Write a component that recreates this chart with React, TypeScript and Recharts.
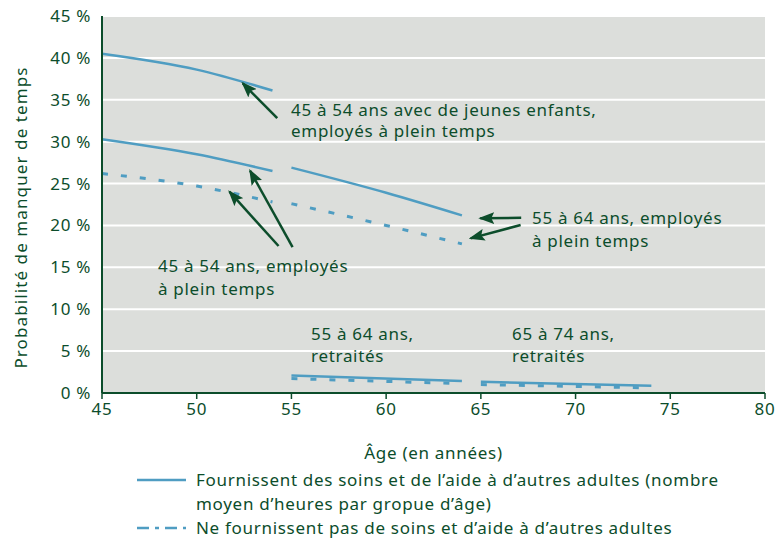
import * as React from "react";
import {
  LineChart,
  Line,
  XAxis,
  YAxis,
  CartesianGrid,
  ReferenceLine,
} from "recharts";

// Axis ticks
const xTicks = [45, 50, 55, 60, 65, 70, 75, 80];
const yTicks = [0, 5, 10, 15, 20, 25, 30, 35, 40, 45];

// Series (age, probability in %)
const employed4554KidsCare = [
  { age: 45, value: 40.5 },
  { age: 50, value: 38.6 },
  { age: 54, value: 36.1 },
];
const employed4554Care = [
  { age: 45, value: 30.3 },
  { age: 50, value: 28.5 },
  { age: 54, value: 26.5 },
];
const employed4554NoCare = [
  { age: 45, value: 26.2 },
  { age: 50, value: 24.7 },
  { age: 54, value: 22.8 },
];
const employed5564Care = [
  { age: 55, value: 26.9 },
  { age: 60, value: 23.9 },
  { age: 64, value: 21.2 },
];
const employed5564NoCare = [
  { age: 55, value: 22.6 },
  { age: 60, value: 20.0 },
  { age: 64, value: 17.8 },
];
const retired5564Care = [
  { age: 55, value: 2.1 },
  { age: 64, value: 1.42 },
];
const retired5564NoCare = [
  { age: 55, value: 1.72 },
  { age: 64, value: 1.12 },
];
const retired6574Care = [
  { age: 65, value: 1.33 },
  { age: 74, value: 0.87 },
];
const retired6574NoCare = [
  { age: 65, value: 1.0 },
  { age: 74, value: 0.6 },
];

// Annotation arrows, in data units (tail -> tip)
const arrows = [
  { from: [54.25, 32.8], to: [52.43, 36.97] },
  { from: [55.06, 17.4], to: [52.82, 26.53] },
  { from: [54.32, 17.55], to: [51.73, 24.03] },
  { from: [67.13, 20.92], to: [64.97, 20.85] },
  { from: [67.1, 20.05], to: [64.46, 18.46] },
];

const BLUE = "#4f9dc2";
const GREEN = "#0c4d2b";
const FONT = "'Noto Sans', sans-serif";
const LS = 0.7;

const solidSeries = [employed4554KidsCare, employed4554Care, employed5564Care, retired5564Care, retired6574Care];
const dashedSeries = [employed4554NoCare, employed5564NoCare, retired5564NoCare, retired6574NoCare];

const notes = [
  { left: 291, top: 99, lines: ["45 à 54 ans avec de jeunes enfants,", "employés à plein temps"], lh: 21 },
  { left: 532, top: 206, lines: ["55 à 64 ans, employés", "à plein temps"], lh: 23 },
  { left: 158, top: 254, lines: ["45 à 54 ans, employés", "à plein temps"], lh: 23 },
  { left: 311, top: 323, lines: ["55 à 64 ans,", "retraités"], lh: 22 },
  { left: 512, top: 323, lines: ["65 à 74 ans,", "retraités"], lh: 22 },
];

export default function App() {
  return (
    <div style={{ position: "absolute", left: 0, top: 0, width: 778, height: 539, background: "#fff", fontFamily: FONT, color: GREEN, letterSpacing: LS }}>
      <svg width={0} height={0} style={{ position: "absolute" }}>
        <defs>
          <marker id="arrowHead" viewBox="0 0 16 12" refX={14} refY={6} markerWidth={16} markerHeight={12} markerUnits="userSpaceOnUse" orient="auto">
            <path d="M0,0 L16,6 L0,12 L3,6 z" fill={GREEN} />
          </marker>
        </defs>
      </svg>
      <LineChart width={778} height={539} margin={{ top: 16, right: 13, bottom: 80, left: 0 }}>
        <CartesianGrid vertical={false} stroke="#ffffff" strokeWidth={2} fill="#dcdedb" fillOpacity={1} />
        <XAxis
          type="number"
          dataKey="age"
          domain={[45, 80]}
          ticks={xTicks}
          height={66}
          axisLine={{ stroke: GREEN, strokeWidth: 2 }}
          tickLine={{ stroke: GREEN, strokeWidth: 1.5 }}
          tickSize={6}
          tickMargin={4}
          tick={{ fill: GREEN, fontSize: 17, fontFamily: FONT, letterSpacing: LS }}
          label={{ value: "Âge (en années)", position: "insideBottom", offset: 0, fill: GREEN, fontSize: 17, fontFamily: FONT, letterSpacing: LS }}
        />
        <YAxis
          type="number"
          domain={[0, 45]}
          ticks={yTicks}
          width={102}
          axisLine={{ stroke: GREEN, strokeWidth: 2 }}
          tickLine={false}
          tickSize={4}
          tickMargin={7}
          tickFormatter={(v: number) => `${v} %`}
          tick={{ fill: GREEN, fontSize: 17, fontFamily: FONT, letterSpacing: LS }}
          label={{
            content: (props: any) => {
              const vb = props.viewBox || { x: 0, y: 16, height: 377 };
              const cx = vb.x + 20;
              const cy = vb.y + vb.height / 2 + 13;
              return (
                <text transform={`translate(${cx}, ${cy}) rotate(-90)`} textAnchor="middle" dominantBaseline="central" fill={GREEN} fontSize={17} fontFamily={FONT} letterSpacing={1.1}>
                  Probabilité de manquer de temps
                </text>
              );
            },
          }}
        />
        {solidSeries.map((d, i) => (
          <Line key={`s${i}`} data={d} dataKey="value" type="monotone" stroke={BLUE} strokeWidth={2.5} dot={false} activeDot={false} isAnimationActive={false} />
        ))}
        {dashedSeries.map((d, i) => (
          <Line key={`d${i}`} data={d} dataKey="value" type="monotone" stroke={BLUE} strokeWidth={3} strokeDasharray="6 13" dot={false} activeDot={false} isAnimationActive={false} />
        ))}
        {arrows.map((a, i) => (
          <ReferenceLine
            key={`a${i}`}
            segment={[{ x: a.from[0], y: a.from[1] }, { x: a.to[0], y: a.to[1] }]}
            stroke={GREEN}
            strokeWidth={2.5}
            markerEnd="url(#arrowHead)"
            ifOverflow="visible"
          />
        ))}
      </LineChart>
      {notes.map((n, i) => (
        <div key={i} style={{ position: "absolute", left: n.left, top: n.top, fontSize: 17, lineHeight: `${n.lh}px`, whiteSpace: "nowrap" }}>
          {n.lines.map((l, j) => (
            <div key={j}>{l}</div>
          ))}
        </div>
      ))}
      <div style={{ position: "absolute", left: 137, top: 468, fontSize: 17, lineHeight: "24px" }}>
        <div style={{ display: "flex" }}>
          <svg width={50} height={24} style={{ flex: "none" }}>
            <line x1={0} y1={12} x2={49} y2={12} stroke={BLUE} strokeWidth={2.5} />
          </svg>
          <div style={{ marginLeft: 9, width: 545 }}>
            Fournissent des soins et de l’aide à d’autres adultes (nombre moyen d’heures par gropue d’âge)
          </div>
        </div>
        <div style={{ display: "flex", height: 24, alignItems: "center" }}>
          <svg width={50} height={24} style={{ flex: "none" }}>
            <line x1={0} y1={12} x2={49} y2={12} stroke={BLUE} strokeWidth={2.5} strokeDasharray="12 6 4 6" />
          </svg>
          <div style={{ marginLeft: 9, whiteSpace: "nowrap", lineHeight: "24px" }}>Ne fournissent pas de soins et d’aide à d’autres adultes</div>
        </div>
      </div>
    </div>
  );
}
